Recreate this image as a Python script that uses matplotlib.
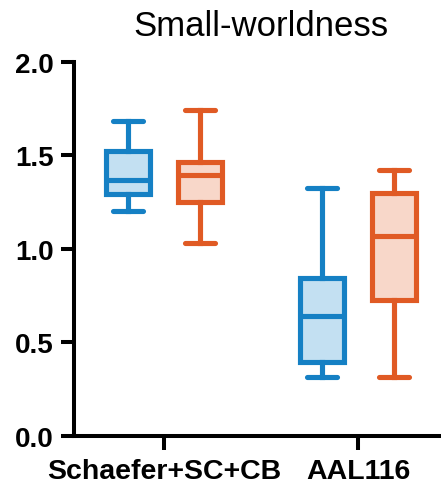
import matplotlib
matplotlib.use("Agg")
import matplotlib.pyplot as plt

plt.rcParams['font.family'] = ['Liberation Sans', 'DejaVu Sans']

# data
categories = ['Schaefer+SC+CB', 'AAL116']
# per category: [whislo, q1, median, q3, whishi]
blue_stats = [[1.20, 1.29, 1.366, 1.524, 1.68],
              [0.316, 0.396, 0.642, 0.842, 1.325]]
orange_stats = [[1.03, 1.248, 1.394, 1.462, 1.742],
                [0.316, 0.726, 1.07, 1.30, 1.422]]

edge_colors = ['#1580c4', '#e05a24']
fill_colors = ['#c3e0f2', '#f8d7c9']

fig = plt.figure(figsize=(4.41, 4.89), dpi=100)
ax = fig.add_axes([0.1667, 0.107, 0.8333, 0.765])


def to_bxp(rows):
    out = []
    for lo, q1, med, q3, hi in rows:
        out.append(dict(whislo=lo, q1=q1, med=med, q3=q3, whishi=hi, fliers=[]))
    return out


offset = 0.186
lw = 3.7
for k, rows in enumerate([blue_stats, orange_stats]):
    pos = [i + (offset if k else -offset) for i in range(len(categories))]
    c = edge_colors[k]
    ax.bxp(to_bxp(rows), positions=pos, widths=0.23, capwidths=0.155,
           patch_artist=True, showfliers=False, manage_ticks=False,
           boxprops=dict(facecolor=fill_colors[k], edgecolor=c, linewidth=lw),
           medianprops=dict(color=c, linewidth=lw),
           whiskerprops=dict(color=c, linewidth=lw),
           capprops=dict(color=c, linewidth=lw, solid_capstyle='round'))

ax.set_xlim(-0.466, 1.428)
ax.set_ylim(0, 2.0)
ax.set_yticks([0.0, 0.5, 1.0, 1.5, 2.0])
ax.set_yticklabels(['0.0', '0.5', '1.0', '1.5', '2.0'])
ax.set_xticks(range(len(categories)))
ax.set_xticklabels(categories)

for s in ['top', 'right']:
    ax.spines[s].set_visible(False)
for s in ['left', 'bottom']:
    ax.spines[s].set_linewidth(2.9)
    ax.spines[s].set_capstyle('projecting')

ax.tick_params(axis='y', length=9.5, width=2.9, pad=5, labelsize=20)
ax.tick_params(axis='x', length=10, width=2.9, pad=6, labelsize=20.5)
for lab in ax.get_xticklabels() + ax.get_yticklabels():
    lab.set_fontweight('bold')

fig.text(0.592, 1 - 10 / 489, 'Small-worldness', ha='center', va='top', fontsize=25)

fig.savefig('out.png', dpi=100)
